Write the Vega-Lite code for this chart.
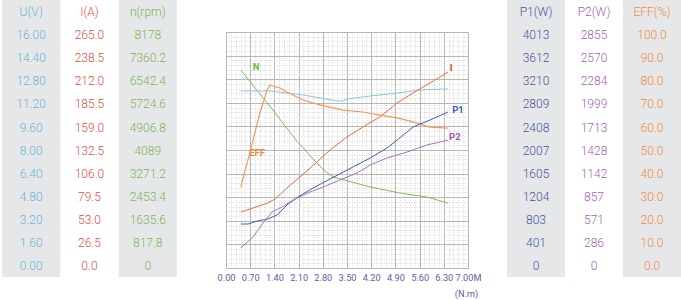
{
  "$schema": "https://vega.github.io/schema/vega-lite/v6.json",
  "padding": {"left": 2, "top": 0, "right": 0, "bottom": 0},
  "autosize": {"type": "pad"},
  "background": "white",
  "bounds": "flush",
  "spacing": 39,
  "config": {"view": {"stroke": null}, "font": "Roboto"},
  "resolve": {"scale": {"x": "independent", "y": "independent"}},
  "datasets": {
    "left": [
      {"k": 11, "U": "U(V)", "I": "I(A)", "n": "n(rpm)"},
      {"k": 10, "U": "16.00", "I": "265.0", "n": "8178"},
      {"k": 9, "U": "14.40", "I": "238.5", "n": "7360.2"},
      {"k": 8, "U": "12.80", "I": "212.0", "n": "6542.4"},
      {"k": 7, "U": "11.20", "I": "185.5", "n": "5724.6"},
      {"k": 6, "U": "9.60", "I": "159.0", "n": "4906.8"},
      {"k": 5, "U": "8.00", "I": "132.5", "n": "4089"},
      {"k": 4, "U": "6.40", "I": "106.0", "n": "3271.2"},
      {"k": 3, "U": "4.80", "I": "79.5", "n": "2453.4"},
      {"k": 2, "U": "3.20", "I": "53.0", "n": "1635.6"},
      {"k": 1, "U": "1.60", "I": "26.5", "n": "817.8"},
      {"k": 0, "U": "0.00", "I": "0.0", "n": "0"}
    ],
    "right": [
      {"k": 11, "P1": "P1(W)", "P2": "P2(W)", "EFF": "EFF(%)"},
      {"k": 10, "P1": "4013", "P2": "2855", "EFF": "100.0"},
      {"k": 9, "P1": "3612", "P2": "2570", "EFF": "90.0"},
      {"k": 8, "P1": "3210", "P2": "2284", "EFF": "80.0"},
      {"k": 7, "P1": "2809", "P2": "1999", "EFF": "70.0"},
      {"k": 6, "P1": "2408", "P2": "1713", "EFF": "60.0"},
      {"k": 5, "P1": "2007", "P2": "1428", "EFF": "50.0"},
      {"k": 4, "P1": "1605", "P2": "1142", "EFF": "40.0"},
      {"k": 3, "P1": "1204", "P2": "857", "EFF": "30.0"},
      {"k": 2, "P1": "803", "P2": "571", "EFF": "20.0"},
      {"k": 1, "P1": "401", "P2": "286", "EFF": "10.0"},
      {"k": 0, "P1": "0", "P2": "0", "EFF": "0.0"}
    ],
    "curves": [
      {"s": "U", "t": 0.43, "v": 12.0}, {"s": "U", "t": 1.27, "v": 12.0}, {"s": "U", "t": 2.23, "v": 11.73}, {"s": "U", "t": 2.72, "v": 11.53}, {"s": "U", "t": 3.21, "v": 11.32}, {"s": "U", "t": 3.38, "v": 11.32}, {"s": "U", "t": 3.5, "v": 11.46}, {"s": "U", "t": 4.17, "v": 11.66}, {"s": "U", "t": 4.95, "v": 11.86}, {"s": "U", "t": 5.61, "v": 12.07}, {"s": "U", "t": 6.42, "v": 12.14},
      {"s": "N", "t": 0.43, "v": 6861}, {"s": "N", "t": 0.84, "v": 6238}, {"s": "N", "t": 1.27, "v": 5614}, {"s": "N", "t": 1.62, "v": 5059}, {"s": "N", "t": 2.05, "v": 4401}, {"s": "N", "t": 2.52, "v": 3777}, {"s": "N", "t": 2.86, "v": 3361}, {"s": "N", "t": 3.1, "v": 3153}, {"s": "N", "t": 3.53, "v": 3015}, {"s": "N", "t": 4.17, "v": 2807}, {"s": "N", "t": 5.03, "v": 2599}, {"s": "N", "t": 5.81, "v": 2460}, {"s": "N", "t": 6.42, "v": 2252},
      {"s": "I", "t": 0.43, "v": 62.9}, {"s": "I", "t": 0.78, "v": 67.4}, {"s": "I", "t": 1.21, "v": 73.0}, {"s": "I", "t": 1.42, "v": 77.5}, {"s": "I", "t": 1.76, "v": 89.8}, {"s": "I", "t": 2.14, "v": 102.2}, {"s": "I", "t": 2.63, "v": 119.0}, {"s": "I", "t": 3.01, "v": 132.5}, {"s": "I", "t": 3.5, "v": 147.1}, {"s": "I", "t": 3.96, "v": 158.3}, {"s": "I", "t": 4.45, "v": 169.6}, {"s": "I", "t": 4.95, "v": 185.3}, {"s": "I", "t": 5.41, "v": 196.5}, {"s": "I", "t": 5.9, "v": 207.7}, {"s": "I", "t": 6.19, "v": 214.5}, {"s": "I", "t": 6.42, "v": 220.1},
      {"s": "EFF", "t": 0.43, "v": 34.3}, {"s": "EFF", "t": 0.49, "v": 38.1}, {"s": "EFF", "t": 0.69, "v": 48.7}, {"s": "EFF", "t": 0.98, "v": 65.7}, {"s": "EFF", "t": 1.19, "v": 75.4}, {"s": "EFF", "t": 1.27, "v": 77.5}, {"s": "EFF", "t": 1.56, "v": 76.3}, {"s": "EFF", "t": 1.76, "v": 74.6}, {"s": "EFF", "t": 2.23, "v": 71.2}, {"s": "EFF", "t": 2.72, "v": 69.1}, {"s": "EFF", "t": 3.38, "v": 66.9}, {"s": "EFF", "t": 3.96, "v": 66.1}, {"s": "EFF", "t": 4.45, "v": 64.8}, {"s": "EFF", "t": 4.95, "v": 63.6}, {"s": "EFF", "t": 5.41, "v": 61.9}, {"s": "EFF", "t": 5.9, "v": 59.7}, {"s": "EFF", "t": 6.42, "v": 59.3},
      {"s": "P1", "t": 0.43, "v": 748}, {"s": "P1", "t": 0.64, "v": 748}, {"s": "P1", "t": 0.9, "v": 799}, {"s": "P1", "t": 1.21, "v": 833}, {"s": "P1", "t": 1.48, "v": 901}, {"s": "P1", "t": 1.76, "v": 1071}, {"s": "P1", "t": 2.08, "v": 1207}, {"s": "P1", "t": 2.52, "v": 1360}, {"s": "P1", "t": 3.01, "v": 1513}, {"s": "P1", "t": 3.67, "v": 1717}, {"s": "P1", "t": 4.17, "v": 1870}, {"s": "P1", "t": 4.66, "v": 2040}, {"s": "P1", "t": 4.95, "v": 2176}, {"s": "P1", "t": 5.41, "v": 2397}, {"s": "P1", "t": 5.9, "v": 2517}, {"s": "P1", "t": 6.42, "v": 2653},
      {"s": "P2", "t": 0.43, "v": 242}, {"s": "P2", "t": 0.78, "v": 375}, {"s": "P2", "t": 1.07, "v": 544}, {"s": "P2", "t": 1.33, "v": 677}, {"s": "P2", "t": 1.62, "v": 738}, {"s": "P2", "t": 1.94, "v": 823}, {"s": "P2", "t": 2.43, "v": 919}, {"s": "P2", "t": 2.81, "v": 980}, {"s": "P2", "t": 3.3, "v": 1065}, {"s": "P2", "t": 3.79, "v": 1149}, {"s": "P2", "t": 4.17, "v": 1246}, {"s": "P2", "t": 4.66, "v": 1331}, {"s": "P2", "t": 5.24, "v": 1403}, {"s": "P2", "t": 5.81, "v": 1488}, {"s": "P2", "t": 6.19, "v": 1524}, {"s": "P2", "t": 6.42, "v": 1549}
    ],
    "labels": [
      {"s": "N", "t": 0.87, "v": 6966},
      {"s": "EFF", "t": 0.9, "v": 48.7},
      {"s": "I", "t": 6.51, "v": 224.5},
      {"s": "P1", "t": 6.71, "v": 2686},
      {"s": "P2", "t": 6.62, "v": 1585}
    ]
  },
  "hconcat": [
    {
      "width": 185,
      "height": 236,
      "data": {"name": "left"},
      "transform": [{"fold": ["U", "I", "n"], "as": ["col", "txt"]}],
      "encoding": {
        "x": {"field": "col", "type": "nominal", "sort": ["U", "I", "n"], "scale": {"paddingInner": 0, "paddingOuter": 0.0865, "align": 0}, "axis": null}
      },
      "layer": [
        {
          "transform": [{"filter": "datum.k == 11 && datum.col != 'I'"}],
          "mark": {"type": "bar", "color": "#e6e7e9"},
          "encoding": {
            "y": {"datum": 11.513, "type": "quantitative", "scale": {"domain": [-0.0735, 10.13], "nice": false, "zero": false}, "axis": null},
            "y2": {"datum": -0.463}
          }
        },
        {
          "mark": {"type": "text", "fontSize": 12, "fontWeight": 300, "baseline": "middle", "align": "center"},
          "encoding": {
            "y": {"field": "k", "type": "quantitative", "scale": {"domain": [-0.0735, 10.13], "nice": false, "zero": false}, "axis": null},
            "text": {"field": "txt"},
            "color": {"field": "col", "type": "nominal", "scale": {"domain": ["U", "I", "n", "P1", "P2", "EFF"], "range": ["#6cb4d2", "#e2503a", "#7ab651", "#3e5aa3", "#a462b5", "#ef8a3e"]}, "legend": null}
          }
        }
      ]
    },
    {
      "width": 242,
      "height": 236,
      "resolve": {"scale": {"y": "independent"}, "axis": {"x": "independent", "y": "independent"}},
      "layer": [
        {
          "data": {"name": "curves"},
          "transform": [{"filter": "datum.s == 'U'"}],
          "mark": {"type": "line", "color": "#86c8da", "strokeWidth": 1},
          "encoding": {
            "x": {"field": "t", "type": "quantitative", "scale": {"domain": [0, 7], "nice": false},
              "axis": {"orient": "bottom", "grid": true, "labels": false, "ticks": false, "domain": false, "title": null, "gridColor": "#cfcfcf", "gridDash": [1, 1.5], "gridWidth": 0.8,
                "values": [0,0.14,0.28,0.42,0.56,0.7,0.84,0.98,1.12,1.26,1.4,1.54,1.68,1.82,1.96,2.1,2.24,2.38,2.52,2.66,2.8,2.94,3.08,3.22,3.36,3.5,3.64,3.78,3.92,4.06,4.2,4.34,4.48,4.62,4.76,4.9,5.04,5.18,5.32,5.46,5.6,5.74,5.88,6.02,6.16,6.3,6.44,6.58,6.72,6.86,7]}},
            "y": {"field": "v", "type": "quantitative", "scale": {"domain": [0, 16], "nice": false},
              "axis": {"orient": "left", "grid": true, "labels": false, "ticks": false, "domain": false, "title": null, "gridColor": "#cfcfcf", "gridDash": [1, 1.5], "gridWidth": 0.8,
                "values": [0,0.32,0.64,0.96,1.28,1.6,1.92,2.24,2.56,2.88,3.2,3.52,3.84,4.16,4.48,4.8,5.12,5.44,5.76,6.08,6.4,6.72,7.04,7.36,7.68,8,8.32,8.64,8.96,9.28,9.6,9.92,10.24,10.56,10.88,11.2,11.52,11.84,12.16,12.48,12.8,13.12,13.44,13.76,14.08,14.4,14.72,15.04,15.36,15.68,16]}}
          }
        },
        {
          "data": {"name": "curves"},
          "transform": [{"filter": "datum.s == 'I'"}],
          "mark": {"type": "line", "color": "#ee6a3e", "strokeWidth": 1},
          "encoding": {
            "x": {"field": "t", "type": "quantitative",
              "axis": {"orient": "bottom", "grid": true, "gridColor": "#a9a9a9", "gridWidth": 0.8, "ticks": false, "tickSize": 0, "domain": false, "labelPadding": 5, "labelOverlap": false, "labelFlush": false,
                "values": [0, 0.7, 1.4, 2.1, 2.8, 3.5, 4.2, 4.9, 5.6, 6.3, 7],
                "labelExpr": "datum.value == 7 ? '7.00M' : format(datum.value, '.2f')",
                "labelFontSize": 9.2, "labelColor": "#5b5ea8", "labelFont": "Roboto",
                "title": "(N.m)", "titleFontSize": 9.2, "titleFontWeight": "normal", "titleColor": "#5b5ea8", "titleFont": "Roboto",
                "titleX": 240, "titleY": 25, "titleAlign": "center", "titleBaseline": "middle"}},
            "y": {"field": "v", "type": "quantitative", "scale": {"domain": [0, 265], "nice": false},
              "axis": {"orient": "left", "grid": true, "gridColor": "#a9a9a9", "gridWidth": 0.8, "labels": false, "ticks": false, "domain": false, "title": null,
                "values": [0, 26.5, 53, 79.5, 106, 132.5, 159, 185.5, 212, 238.5, 265]}}
          }
        },
        {
          "data": {"name": "labels"},
          "transform": [{"filter": "datum.s == 'I'"}],
          "mark": {"type": "text", "color": "#e2402f", "fontWeight": "bold", "fontSize": 9.5},
          "encoding": {
            "x": {"field": "t", "type": "quantitative", "axis": null},
            "y": {"field": "v", "type": "quantitative", "scale": {"domain": [0, 265], "nice": false}, "axis": null},
            "text": {"field": "s"}
          }
        },
        {
          "layer": [
            {
              "data": {"name": "curves"},
              "transform": [{"filter": "datum.s == 'N'"}],
              "mark": {"type": "line", "color": "#7dbd57", "strokeWidth": 1},
              "encoding": {
                "x": {"field": "t", "type": "quantitative", "axis": null},
                "y": {"field": "v", "type": "quantitative", "scale": {"domain": [0, 8178], "nice": false}, "axis": null}
              }
            },
            {
              "data": {"name": "labels"},
              "transform": [{"filter": "datum.s == 'N'"}],
              "mark": {"type": "text", "color": "#6bb547", "fontWeight": "bold", "fontSize": 9.5},
              "encoding": {
                "x": {"field": "t", "type": "quantitative", "axis": null},
                "y": {"field": "v", "type": "quantitative", "axis": null},
                "text": {"field": "s"}
              }
            }
          ]
        },
        {
          "layer": [
            {
              "data": {"name": "curves"},
              "transform": [{"filter": "datum.s == 'EFF'"}],
              "mark": {"type": "line", "color": "#f39a58", "strokeWidth": 1.2},
              "encoding": {
                "x": {"field": "t", "type": "quantitative", "axis": null},
                "y": {"field": "v", "type": "quantitative", "scale": {"domain": [0, 100], "nice": false}, "axis": null}
              }
            },
            {
              "data": {"name": "labels"},
              "transform": [{"filter": "datum.s == 'EFF'"}],
              "mark": {"type": "text", "color": "#f08a3a", "fontWeight": "bold", "fontSize": 9.5},
              "encoding": {
                "x": {"field": "t", "type": "quantitative", "axis": null},
                "y": {"field": "v", "type": "quantitative", "axis": null},
                "text": {"field": "s"}
              }
            }
          ]
        },
        {
          "layer": [
            {
              "data": {"name": "curves"},
              "transform": [{"filter": "datum.s == 'P1'"}],
              "mark": {"type": "line", "color": "#3f5fb0", "strokeWidth": 1},
              "encoding": {
                "x": {"field": "t", "type": "quantitative", "axis": null},
                "y": {"field": "v", "type": "quantitative", "scale": {"domain": [0, 4013], "nice": false}, "axis": null}
              }
            },
            {
              "data": {"name": "labels"},
              "transform": [{"filter": "datum.s == 'P1'"}],
              "mark": {"type": "text", "color": "#3e5aa8", "fontWeight": "bold", "fontSize": 9.5},
              "encoding": {
                "x": {"field": "t", "type": "quantitative", "axis": null},
                "y": {"field": "v", "type": "quantitative", "axis": null},
                "text": {"field": "s"}
              }
            }
          ]
        },
        {
          "layer": [
            {
              "data": {"name": "curves"},
              "transform": [{"filter": "datum.s == 'P2'"}],
              "mark": {"type": "line", "color": "#a773bb", "strokeWidth": 1},
              "encoding": {
                "x": {"field": "t", "type": "quantitative", "axis": null},
                "y": {"field": "v", "type": "quantitative", "scale": {"domain": [0, 2855], "nice": false}, "axis": null}
              }
            },
            {
              "data": {"name": "labels"},
              "transform": [{"filter": "datum.s == 'P2'"}],
              "mark": {"type": "text", "color": "#a35bb5", "fontWeight": "bold", "fontSize": 9.5},
              "encoding": {
                "x": {"field": "t", "type": "quantitative", "axis": null},
                "y": {"field": "v", "type": "quantitative", "axis": null},
                "text": {"field": "s"}
              }
            }
          ]
        }
      ]
    },
    {
      "width": 174,
      "height": 236,
      "data": {"name": "right"},
      "transform": [{"fold": ["P1", "P2", "EFF"], "as": ["col", "txt"]}],
      "encoding": {
        "x": {"field": "col", "type": "nominal", "sort": ["P1", "P2", "EFF"], "scale": {"paddingInner": 0, "paddingOuter": 0}, "axis": null}
      },
      "layer": [
        {
          "transform": [{"filter": "datum.k == 11 && datum.col != 'P2'"}],
          "mark": {"type": "bar", "color": "#e6e7e9"},
          "encoding": {
            "y": {"datum": 11.513, "type": "quantitative", "scale": {"domain": [-0.0735, 10.13], "nice": false, "zero": false}, "axis": null},
            "y2": {"datum": -0.463}
          }
        },
        {
          "mark": {"type": "text", "fontSize": 12, "fontWeight": 300, "baseline": "middle", "align": "center"},
          "encoding": {
            "y": {"field": "k", "type": "quantitative", "scale": {"domain": [-0.0735, 10.13], "nice": false, "zero": false}, "axis": null},
            "text": {"field": "txt"},
            "color": {"field": "col", "type": "nominal", "scale": {"domain": ["U", "I", "n", "P1", "P2", "EFF"], "range": ["#6cb4d2", "#e2503a", "#7ab651", "#3e5aa3", "#a462b5", "#ef8a3e"]}, "legend": null}
          }
        }
      ]
    }
  ]
}
